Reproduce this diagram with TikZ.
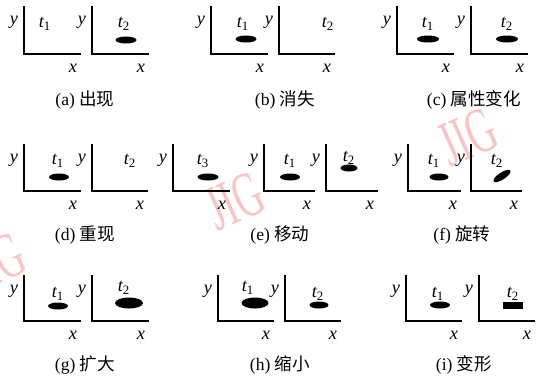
\documentclass[tikz,border=0pt]{standalone}
\usepackage{fontspec}
\setmainfont{Liberation Serif}
\newfontfamily\cjk{Noto Sans CJK SC}
\usetikzlibrary{shapes.geometric}
\definecolor{wmpink}{RGB}{250,196,196}
\newcommand\tlab[1]{t\textsubscript{\upshape #1}}

\begin{document}
\begin{tikzpicture}[
    x=0.025cm, y=-0.025cm,
    axis/.style={line width=1pt},
    var/.style={font=\fontsize{13}{13}\selectfont\itshape, inner sep=0pt},
    capt/.style={font=\fontsize{12.5}{13}\selectfont, inner sep=0pt},
    blob/.style 2 args={ellipse, fill=black, inner sep=0pt, minimum width=#1*0.025cm, minimum height=#2*0.025cm},
    wmark/.style={text=wmpink, font=\fontsize{46}{46}\selectfont, inner sep=0pt, rotate=24, xscale=0.6}
]
\useasboundingbox (0,0) rectangle (546,378);
\clip (0,0) rectangle (546,378);

% watermarks
\node[wmark] (wm1) at (235,201) {JIG};
\node[wmark] (wm2) at (468,137) {JIG};
\node[wmark] (wm3) at (-4,262) {JIG};

% axes
\foreach \nm/\vx/\xe/\tp/\bt in {a1/24/81/6/54, a2/92/149/6/54, b1/211/268/6/54, b2/279/335/6/54,
    c1/397/454/6/54, c2/471/528/6/54, d1/24/81/144/191, d2/92/148/144/191, e1/173/230/144/191,
    e2/264/315/144/191, e3/326/378/144/191, f1/408/461/144/191, f2/471/522/144/191,
    g1/24/81/275/321, g2/92/149/275/321, h1/218/274/275/321, h2/285/341/275/321,
    i1/406/462/275/321, i2/479/535/275/321}
{
  \draw[axis] (\vx,\tp) -- (\vx,\bt) -- (\xe,\bt);
  \node[var] (y-\nm) at (\vx-10,\tp+16) {y};
  \node[var] (x-\nm) at (\xe-8,\bt+14) {x};
}

% (a)
\node[var] (t-a1) at (45,24) {\tlab{1}};
\node[var] (t-a2) at (124,24) {\tlab{2}};
\node[blob={21}{7}] (o-a2) at (126,40) {};
% (b)
\node[var] (t-b1) at (243,24) {\tlab{1}};
\node[blob={21}{7}] (o-b1) at (246,39) {};
\node[var] (t-b2) at (328,24) {\tlab{2}};
% (c)
\node[var] (t-c1) at (428,24) {\tlab{1}};
\node[blob={22}{7}] (o-c1) at (428,39) {};
\node[var] (t-c2) at (507,24) {\tlab{2}};
\node[blob={22}{7}] (o-c2) at (507,39) {};
% (d)
\node[var] (t-d1) at (58,161) {\tlab{1}};
\node[blob={20}{7}] (o-d1) at (59,177) {};
\node[var] (t-d2) at (130,161) {\tlab{2}};
% (e)
\node[var] (t-e1) at (203,161) {\tlab{3}};
\node[blob={21}{7}] (o-e1) at (208,177) {};
\node[var] (t-e2) at (290,161) {\tlab{1}};
\node[blob={20}{7}] (o-e2) at (290,177) {};
\node[var] (t-e3) at (349,158) {\tlab{2}};
\node[blob={17}{7}] (o-e3) at (349,168) {};
% (f)
\node[var] (t-f1) at (434,161) {\tlab{1}};
\node[blob={19}{7}] (o-f1) at (439,177) {};
\node[var] (t-f2) at (497,161) {\tlab{2}};
\node[blob={20}{7}, rotate=33] (o-f2) at (502,176) {};
% (g)
\node[var] (t-g1) at (58,294) {\tlab{1}};
\node[blob={20}{7}] (o-g1) at (58,306) {};
\node[var] (t-g2) at (124,288) {\tlab{2}};
\node[blob={28}{11}] (o-g2) at (129,303) {};
% (h)
\node[var] (t-h1) at (248,288) {\tlab{1}};
\node[blob={27}{11}] (o-h1) at (255,303) {};
\node[var] (t-h2) at (318,294) {\tlab{2}};
\node[blob={19}{7}] (o-h2) at (319,305) {};
% (i)
\node[var] (t-i1) at (438,294) {\tlab{1}};
\node[blob={20}{7}] (o-i1) at (440,305) {};
\node[var] (t-i2) at (513,294) {\tlab{2}};
\node[fill=black, inner sep=0pt, minimum width=20*0.025cm, minimum height=7*0.025cm] (o-i2) at (513,305) {};

% captions
\node[capt] (cap-a) at (85,100) {(a) {\cjk 出现}};
\node[capt] (cap-b) at (285,100) {(b) {\cjk 消失}};
\node[capt] (cap-c) at (474,100) {(c) {\cjk 属性变化}};
\node[capt] (cap-d) at (85,235) {(d) {\cjk 重现}};
\node[capt] (cap-e) at (280,235) {(e) {\cjk 移动}};
\node[capt] (cap-f) at (462,235) {(f) {\cjk 旋转}};
\node[capt] (cap-g) at (85,365) {(g) {\cjk 扩大}};
\node[capt] (cap-h) at (280,365) {(h) {\cjk 缩小}};
\node[capt] (cap-i) at (464,365) {(i) {\cjk 变形}};
\end{tikzpicture}
\end{document}
